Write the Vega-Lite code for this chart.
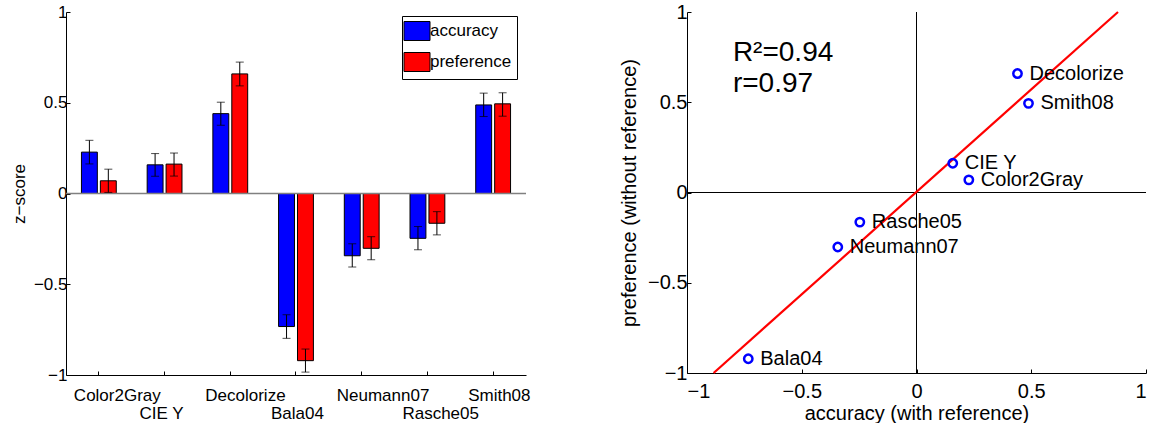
{
  "$schema": "https://vega.github.io/schema/vega-lite/v6.json",
  "padding": {"left": 10, "top": 2, "right": 0, "bottom": 0},
  "spacing": 88,
  "config": {
    "view": {"stroke": null},
    "font": "Liberation Sans",
    "axis": {
      "grid": false,
      "domainColor": "black",
      "domainWidth": 1,
      "tickColor": "black",
      "tickSize": -4,
      "labelColor": "black",
      "titleColor": "black",
      "titleFontWeight": "normal"
    },
    "axisQuantitative": {"format": "~g"}
  },
  "datasets": {
    "bars": [
      {"method": "Color2Gray", "measure": "accuracy", "value": 0.228, "lo": 0.163, "hi": 0.293},
      {"method": "Color2Gray", "measure": "preference", "value": 0.070, "lo": 0.006, "hi": 0.134},
      {"method": "CIE Y", "measure": "accuracy", "value": 0.158, "lo": 0.095, "hi": 0.220},
      {"method": "CIE Y", "measure": "preference", "value": 0.162, "lo": 0.096, "hi": 0.223},
      {"method": "Decolorize", "measure": "accuracy", "value": 0.440, "lo": 0.376, "hi": 0.503},
      {"method": "Decolorize", "measure": "preference", "value": 0.659, "lo": 0.593, "hi": 0.724},
      {"method": "Bala04", "measure": "accuracy", "value": -0.733, "lo": -0.798, "hi": -0.668},
      {"method": "Bala04", "measure": "preference", "value": -0.921, "lo": -0.984, "hi": -0.857},
      {"method": "Neumann07", "measure": "accuracy", "value": -0.343, "lo": -0.405, "hi": -0.277},
      {"method": "Neumann07", "measure": "preference", "value": -0.302, "lo": -0.365, "hi": -0.238},
      {"method": "Rasche05", "measure": "accuracy", "value": -0.247, "lo": -0.310, "hi": -0.182},
      {"method": "Rasche05", "measure": "preference", "value": -0.164, "lo": -0.228, "hi": -0.100},
      {"method": "Smith08", "measure": "accuracy", "value": 0.488, "lo": 0.424, "hi": 0.553},
      {"method": "Smith08", "measure": "preference", "value": 0.494, "lo": 0.426, "hi": 0.555}
    ],
    "points": [
      {"method": "Color2Gray", "accuracy": 0.228, "preference": 0.070},
      {"method": "CIE Y", "accuracy": 0.158, "preference": 0.162},
      {"method": "Decolorize", "accuracy": 0.440, "preference": 0.659},
      {"method": "Bala04", "accuracy": -0.733, "preference": -0.921},
      {"method": "Neumann07", "accuracy": -0.343, "preference": -0.302},
      {"method": "Rasche05", "accuracy": -0.247, "preference": -0.164},
      {"method": "Smith08", "accuracy": 0.488, "preference": 0.494}
    ],
    "fit": [
      {"accuracy": -0.884, "preference": -1},
      {"accuracy": 0.878, "preference": 1}
    ],
    "annot": [
      {"x": -0.8, "y": 0.773, "text": "R²=0.94"},
      {"x": -0.8, "y": 0.60, "text": "r=0.97"}
    ]
  },
  "hconcat": [
    {
      "width": 460,
      "height": 363,
      "data": {"name": "bars"},
      "layer": [
        {
          "mark": {"type": "bar", "stroke": "black", "strokeWidth": 1},
          "encoding": {
            "x": {
              "field": "method", "type": "nominal", "sort": null,
              "scale": {"paddingInner": 0.47, "paddingOuter": 0.235},
              "axis": {
                "title": null, "labelAngle": 0, "labelFontSize": 17,
                "labelPadding": 16, "labelLineHeight": 18,
                "labelAlign": "left", "labelOffset": -25,
                "labelExpr": "indexof(['CIE Y','Bala04','Rasche05'], datum.value) >= 0 ? ['', datum.label] : datum.label"
              }
            },
            "xOffset": {"field": "measure", "scale": {"paddingInner": 0.16, "paddingOuter": 0}},
            "y": {
              "field": "value", "type": "quantitative",
              "scale": {"domain": [-1, 1], "nice": false},
              "axis": {
                "values": [-1, -0.5, 0, 0.5, 1], "labelFontSize": 17,
                "labelPadding": 3, "title": "z−score", "titleFontSize": 17,
                "titlePadding": 5
              }
            },
            "color": {
              "field": "measure", "type": "nominal",
              "scale": {"domain": ["accuracy", "preference"], "range": ["#0000ff", "#ff0000"]},
              "legend": {
                "title": null, "orient": "none", "legendX": 336, "legendY": 4,
                "strokeColor": "black", "fillColor": "white", "padding": 5,
                "symbolType": "M-1.37,-1H1.37V1H-1.37Z", "symbolSize": 361,
                "symbolStrokeColor": "black", "symbolStrokeWidth": 1,
                "labelFontSize": 17, "labelOffset": 3, "rowPadding": 7,
                "labelColor": "black"
              }
            }
          }
        },
        {
          "data": {"values": [{}]},
          "mark": {"type": "rule", "color": "#808080", "strokeWidth": 1.5},
          "encoding": {"y": {"datum": 0, "type": "quantitative"}}
        },
        {
          "mark": {"type": "rule", "color": "black", "strokeWidth": 1},
          "encoding": {
            "x": {"field": "method", "type": "nominal", "sort": null},
            "xOffset": {"field": "measure"},
            "y": {"field": "lo", "type": "quantitative"},
            "y2": {"field": "hi"}
          }
        },
        {
          "mark": {"type": "tick", "color": "black", "thickness": 1, "size": 8},
          "encoding": {
            "x": {"field": "method", "type": "nominal", "sort": null},
            "xOffset": {"field": "measure"},
            "y": {"field": "lo", "type": "quantitative"}
          }
        },
        {
          "mark": {"type": "tick", "color": "black", "thickness": 1, "size": 8},
          "encoding": {
            "x": {"field": "method", "type": "nominal", "sort": null},
            "xOffset": {"field": "measure"},
            "y": {"field": "hi", "type": "quantitative"}
          }
        }
      ]
    },
    {
      "width": 459,
      "height": 361,
      "layer": [
        {
          "data": {"values": [{}]},
          "mark": {"type": "rule", "color": "black", "strokeWidth": 1},
          "encoding": {"x": {"datum": 0, "type": "quantitative", "scale": {"domain": [-1, 1], "nice": false}}}
        },
        {
          "data": {"values": [{}]},
          "mark": {"type": "rule", "color": "black", "strokeWidth": 1},
          "encoding": {"y": {"datum": 0, "type": "quantitative", "scale": {"domain": [-1, 1], "nice": false}}}
        },
        {
          "data": {"name": "fit"},
          "mark": {"type": "line", "color": "#ff0000", "strokeWidth": 2.2},
          "encoding": {
            "x": {"field": "accuracy", "type": "quantitative", "scale": {"domain": [-1, 1], "nice": false},
              "axis": {"values": [-1, -0.5, 0, 0.5, 1], "labelFontSize": 20, "labelPadding": 12,
                "title": "accuracy (with reference)", "titleFontSize": 20, "titlePadding": 2}},
            "y": {"field": "preference", "type": "quantitative", "scale": {"domain": [-1, 1], "nice": false},
              "axis": {"values": [-1, -0.5, 0, 0.5, 1], "labelFontSize": 20, "labelPadding": 4,
                "title": "preference (without reference)", "titleFontSize": 20, "titlePadding": 8}}
          }
        },
        {
          "data": {"name": "points"},
          "mark": {"type": "point", "shape": "circle", "filled": false, "color": "#0000ff", "opacity": 1, "strokeWidth": 2.5, "size": 70},
          "encoding": {
            "x": {"field": "accuracy", "type": "quantitative"},
            "y": {"field": "preference", "type": "quantitative"}
          }
        },
        {
          "data": {"name": "points"},
          "mark": {"type": "text", "align": "left", "baseline": "middle", "dx": 12, "fontSize": 20, "color": "black"},
          "encoding": {
            "x": {"field": "accuracy", "type": "quantitative"},
            "y": {"field": "preference", "type": "quantitative"},
            "text": {"field": "method"}
          }
        },
        {
          "data": {"name": "annot"},
          "mark": {"type": "text", "align": "left", "baseline": "middle", "fontSize": 28, "color": "black"},
          "encoding": {
            "x": {"field": "x", "type": "quantitative"},
            "y": {"field": "y", "type": "quantitative"},
            "text": {"field": "text"}
          }
        }
      ]
    }
  ]
}
